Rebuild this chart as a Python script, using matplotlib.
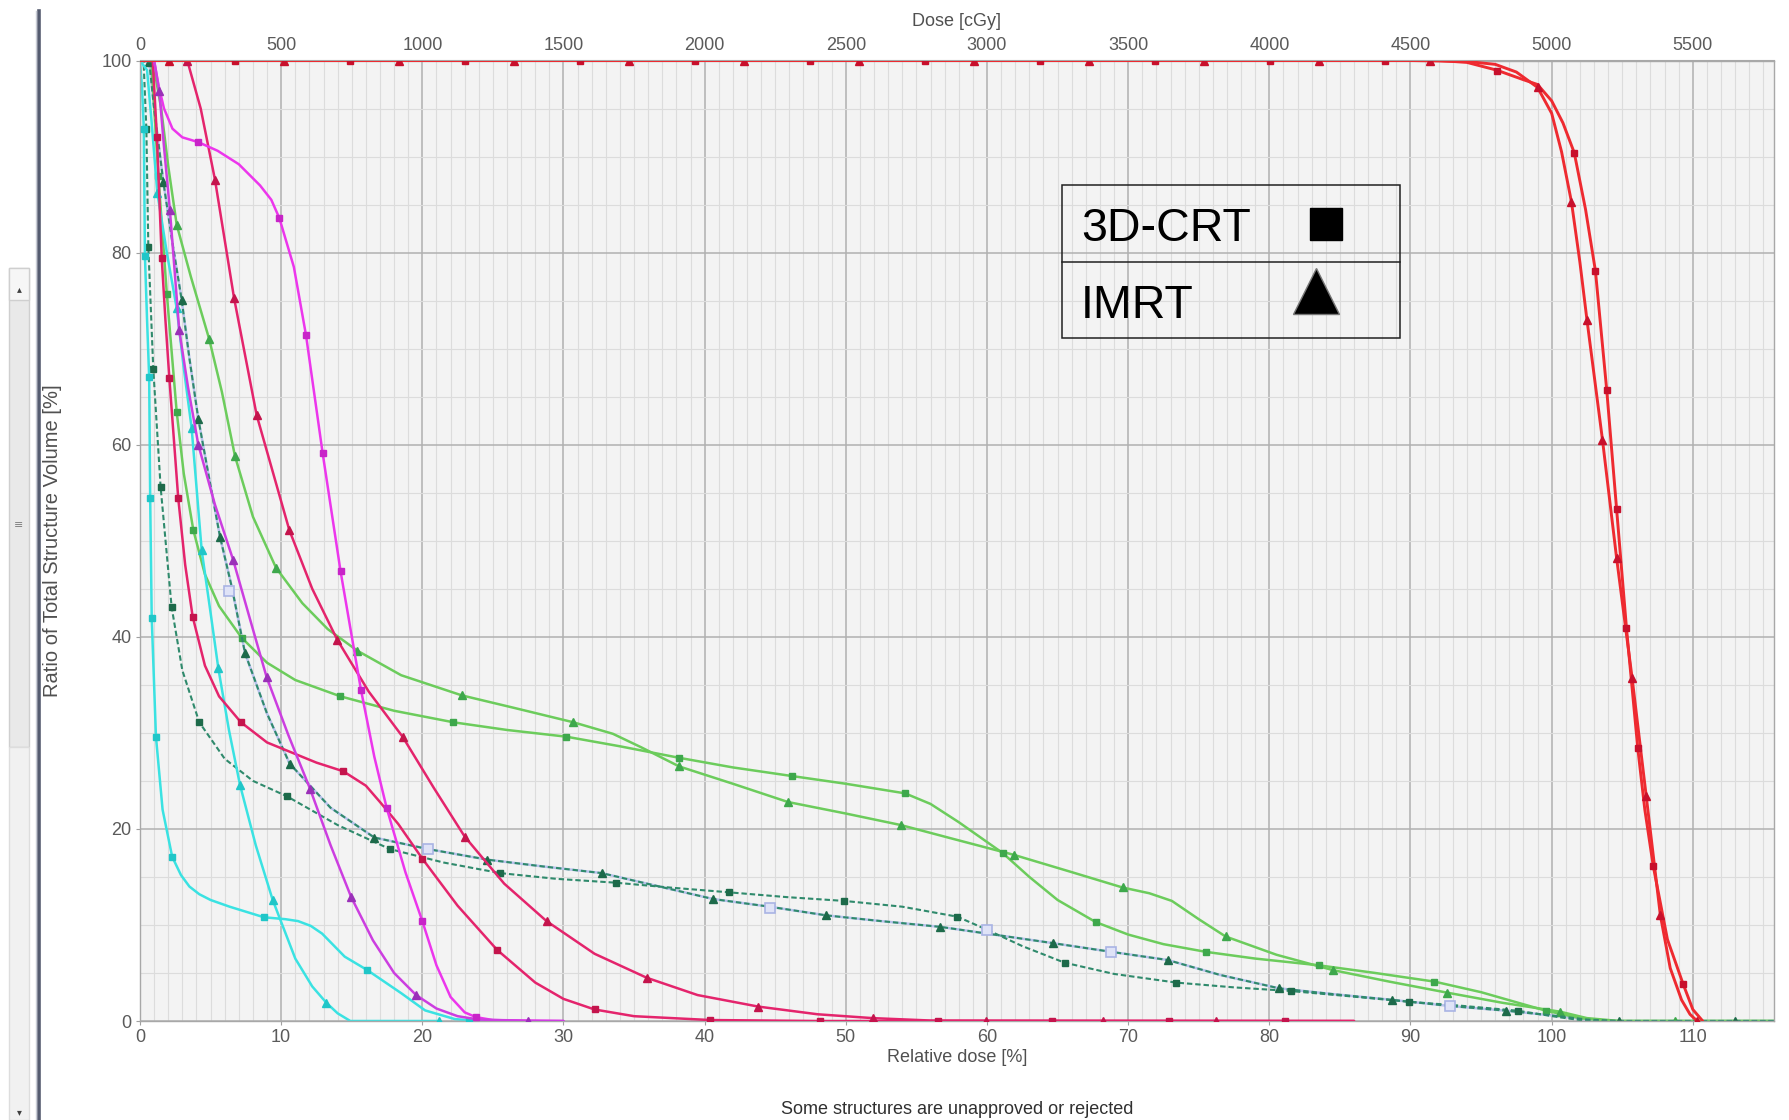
import matplotlib
matplotlib.use("Agg")
import matplotlib.pyplot as plt
from matplotlib.lines import Line2D
from matplotlib.patches import Rectangle
from matplotlib.ticker import MultipleLocator

plt.rcParams['font.family'] = ['Liberation Sans', 'DejaVu Sans']

# ---------------- data (relative dose [%], volume [%]) ----------------
# PTV 3D-CRT (squares)
ptv3d_x = [0, 10, 20, 30, 40, 50, 60, 70, 80, 88, 92, 94, 96.1, 98.0, 99.0, 100.0, 100.8, 101.6, 102.4,
           103.1, 103.9, 104.6, 105.3, 106.1, 106.6, 107.2, 108.2, 109.3, 110.0, 110.7]
ptv3d_y = [100] * 11 + [99.8, 99.0, 98.0, 97.5, 95.8, 93.5, 90.4, 84.5, 78.1, 65.7, 53.3, 40.9, 28.4,
                        22.0, 16.1, 8.5, 3.9, 1.2, 0]
ptv3d_mx = [6.7, 14.85, 23.0, 31.15, 39.3, 47.45, 55.6, 63.75, 71.9, 80.05, 88.2, 96.1, 101.6, 103.1,
            103.9, 104.6, 105.3, 106.1, 107.2, 109.3]
ptv3d_my = [100] * 11 + [98.95, 90.4, 78.1, 65.7, 53.3, 40.9, 28.4, 16.1, 3.9]

# PTV IMRT (triangles)
ptvim_x = [0, 10, 20, 30, 40, 50, 60, 70, 80, 90, 94, 96, 97.5, 99.0, 100.0, 100.7, 101.4, 102.0, 102.5,
           103.6, 104.6, 105.7, 106.7, 107.7, 108.4, 109.2, 109.8, 110.3]
ptvim_y = [100] * 10 + [99.9, 99.6, 98.8, 97.2, 94.5, 90.5, 85.3, 79.0, 73.0, 60.5, 48.2, 35.7, 23.4,
                        11.0, 5.5, 2.2, 0.7, 0]
ptvim_mx = [2.05, 10.2, 18.35, 26.5, 34.65, 42.8, 50.95, 59.1, 67.25, 75.4, 83.55, 91.4, 99.0, 101.4,
            102.5, 103.6, 104.6, 105.7, 106.7, 107.7, 110.3]
ptvim_my = [100] * 12 + [97.2, 85.3, 73.0, 60.5, 48.2, 35.7, 23.4, 11.0, 0]

# Crimson structure 3D-CRT
crim3d_x = [0, 0.9, 1.2, 1.54, 1.8, 2.08, 2.71, 3.2, 3.73, 4.6, 5.6, 7.15, 9.0, 11.0, 12.5, 14.4, 16.0,
            17.0, 18.3, 20.0, 22.5, 25.3, 28.0, 30.0, 32.2, 35.0, 40.4, 48, 86]
crim3d_y = [100, 100, 92, 79.4, 73, 66.9, 54.4, 47.5, 42.1, 37, 33.8, 31.1, 29.0, 27.8, 26.9, 26.0, 24.5,
            22.8, 20.5, 16.9, 12.0, 7.4, 4.0, 2.3, 1.2, 0.5, 0.1, 0, 0]
crim3d_mx = [1.2, 1.54, 2.08, 2.71, 3.73, 7.15, 14.4, 20.0, 25.3, 32.2, 40.4, 48.2, 56.5, 64.6, 72.9, 81.1]
crim3d_my = [92, 79.4, 66.9, 54.4, 42.1, 31.1, 26.0, 16.9, 7.4, 1.2, 0.1, 0, 0, 0, 0, 0]

# Crimson structure IMRT
crimim_x = [0, 3.35, 4.3, 5.31, 6.66, 8.26, 10.58, 12.2, 13.97, 16.2, 18.6, 20.8, 23.0, 25.8, 28.8, 32.2,
            35.9, 39.5, 43.8, 48, 51.9, 56, 86]
crimim_y = [100, 100, 95, 87.6, 75.3, 63.1, 51.1, 45.0, 39.7, 34.3, 29.6, 24.3, 19.2, 14.3, 10.4, 7.0,
            4.5, 2.7, 1.5, 0.7, 0.3, 0.05, 0]
crimim_mx = [3.35, 5.31, 6.66, 8.26, 10.58, 13.97, 18.6, 23.0, 28.8, 35.9, 43.8, 51.9, 59.9, 68.2, 76.2]
crimim_my = [100, 87.6, 75.3, 63.1, 51.1, 39.7, 29.6, 19.2, 10.4, 4.5, 1.5, 0.3, 0, 0, 0]

# Magenta structure 3D-CRT
mag3d_x = [0, 1.0, 1.3, 1.7, 2.3, 3.0, 4.13, 5.5, 7.0, 8.5, 9.3, 9.87, 10.9, 11.76, 12.94, 14.21, 15.65,
           16.6, 17.47, 18.8, 20.0, 21.0, 22.0, 23.0, 23.8, 25, 30]
mag3d_y = [100, 100, 97.5, 95, 92.9, 92.0, 91.5, 90.6, 89.2, 87.0, 85.5, 83.6, 78.5, 71.4, 59.1, 46.8,
           34.5, 27.5, 22.2, 15.5, 10.4, 5.8, 2.5, 0.9, 0.4, 0.1, 0]
mag3d_mx = [4.13, 9.87, 11.76, 12.94, 14.21, 15.65, 17.47, 20.0, 23.8]
mag3d_my = [91.5, 83.6, 71.4, 59.1, 46.8, 34.5, 22.2, 10.4, 0.4]

# Magenta/violet structure IMRT
magim_x = [0, 1.0, 1.37, 1.7, 2.12, 2.78, 3.4, 4.13, 5.3, 6.6, 7.8, 8.97, 10.5, 12.04, 13.5, 14.96, 16.5,
           18.0, 19.56, 21.0, 22.5, 24.0, 27.5, 30]
magim_y = [100, 100, 96.8, 91, 84.4, 71.9, 66, 60.0, 53.8, 48.0, 41.8, 35.8, 29.8, 24.2, 18.3, 12.9, 8.4,
           5.0, 2.7, 1.3, 0.5, 0.15, 0, 0]
magim_mx = [1.37, 2.12, 2.78, 4.13, 6.6, 8.97, 12.04, 14.96, 19.56, 27.5]
magim_my = [96.8, 84.4, 71.9, 60.0, 48.0, 35.8, 24.2, 12.9, 2.7, 0]

# Cyan structure 3D-CRT
cyan3d_x = [0, 0.15, 0.27, 0.35, 0.5, 0.65, 0.72, 0.83, 1.13, 1.6, 2.28, 2.9, 3.5, 4.2, 5.0, 6.35, 8.78,
            10.3, 11.2, 12.1, 12.9, 14.5, 16.1, 18.5, 20.2, 22.3, 24, 27]
cyan3d_y = [100, 97, 92.9, 79.6, 73, 67, 54.5, 42, 29.6, 22, 17.1, 15.2, 14.0, 13.2, 12.6, 11.9, 10.8,
            10.6, 10.4, 9.9, 9.1, 6.7, 5.3, 2.9, 1.1, 0.2, 0, 0]
cyan3d_mx = [0.27, 0.35, 0.65, 0.72, 0.83, 1.13, 2.28, 8.78, 16.1, 23.3]
cyan3d_my = [92.9, 79.6, 67, 54.5, 42, 29.6, 17.1, 10.8, 5.3, 0.05]

# Cyan structure IMRT
cyanim_x = [0, 0.5, 0.8, 1.23, 1.9, 2.6, 3.1, 3.66, 4.37, 5.0, 5.55, 6.3, 7.08, 8.2, 9.4, 11.0, 12.2,
            13.2, 14.0, 14.9, 21.2]
cyanim_y = [100, 99, 94, 86.2, 80, 74.2, 68, 61.7, 49.0, 42.5, 36.7, 30.3, 24.6, 18.3, 12.6, 6.5, 3.6,
            1.9, 0.8, 0, 0]
cyanim_mx = [1.23, 2.6, 3.66, 4.37, 5.55, 7.08, 9.4, 13.2, 21.2]
cyanim_my = [86.2, 74.2, 61.7, 49.0, 36.7, 24.6, 12.6, 1.9, 0]

# Green structure 3D-CRT
grn3d_x = [0, 0.8, 1.3, 1.9, 2.6, 3.1, 3.78, 4.6, 5.6, 7.2, 9.0, 11.0, 14.2, 18.0, 22.2, 26.0, 30.2,
           34.0, 38.2, 42.0, 46.2, 50.0, 54.2, 56.0, 58.0, 61.1, 63.0, 65.0, 67.7, 70.0, 72.5, 75.5, 79.0,
           83.5, 87.5, 91.7, 95.0, 99.6, 102.0, 104.0, 115.8]
grn3d_y = [100, 100, 88, 75.7, 63.4, 57, 51.1, 46.5, 43.2, 39.9, 37.3, 35.5, 33.8, 32.3, 31.1, 30.3,
           29.6, 28.6, 27.4, 26.4, 25.5, 24.7, 23.7, 22.6, 20.7, 17.5, 15.0, 12.6, 10.3, 9.0, 8.0, 7.2,
           6.5, 5.8, 5.0, 4.1, 3.0, 1.07, 0.3, 0, 0]
grn3d_mx = [1.3, 1.9, 2.6, 3.78, 7.2, 14.2, 22.2, 30.2, 38.2, 46.2, 54.2, 61.1, 67.7, 75.5, 83.5, 91.7, 99.6]
grn3d_my = [88, 75.7, 63.4, 51.1, 39.9, 33.8, 31.1, 29.6, 27.4, 25.5, 23.7, 17.5, 10.3, 7.2, 5.8, 4.1, 1.07]

# Green structure IMRT
grnim_x = [0, 0.9, 1.5, 2.0, 2.6, 3.6, 4.9, 5.8, 6.73, 8.0, 9.63, 11.5, 13.3, 15.4, 18.5, 22.8, 26.5,
           30.7, 33.5, 35.5, 38.2, 42.0, 45.9, 50.0, 53.9, 57.5, 61.9, 66.0, 69.6, 71.5, 73.1, 75.0, 76.9,
           80.5, 84.5, 88.5, 92.6, 96.5, 100.6, 102.5, 104.8, 115.8]
grnim_y = [100, 100, 95, 89, 82.9, 77.5, 71.0, 65.5, 58.8, 52.5, 47.2, 43.5, 40.8, 38.55, 36.0, 33.9,
           32.6, 31.1, 29.9, 28.5, 26.5, 24.7, 22.8, 21.6, 20.4, 19.0, 17.3, 15.5, 13.9, 13.3, 12.5, 10.6,
           8.8, 6.9, 5.3, 4.1, 2.95, 1.9, 0.97, 0.3, 0, 0]
grnim_mx = [2.6, 4.9, 6.73, 9.63, 15.4, 22.8, 30.7, 38.2, 45.9, 53.9, 61.9, 69.6, 76.9, 84.5, 92.6, 100.6, 108.75]
grnim_my = [82.9, 71.0, 58.8, 47.2, 38.55, 33.9, 31.1, 26.5, 22.8, 20.4, 17.3, 13.9, 8.8, 5.3, 2.95, 0.97, 0]

# Dark-green dashed structure 3D-CRT
dsh3d_x = [0, 0.25, 0.45, 0.59, 0.94, 1.46, 2.24, 3.0, 4.2, 6.0, 8.0, 10.4, 14.0, 17.7, 21.5, 25.5, 29.5,
           33.7, 37.5, 41.7, 45.8, 49.9, 54.0, 57.9, 60.0, 62.5, 65.5, 69.0, 73.4, 77.5, 81.5, 85.5, 89.9,
           93.5, 97.6, 100.5, 102.5, 115.8]
dsh3d_y = [100, 100, 92.9, 80.6, 67.9, 55.6, 43.1, 36.5, 31.1, 27.3, 25.0, 23.4, 20.4, 17.9, 16.5, 15.4,
           14.8, 14.4, 13.9, 13.4, 12.9, 12.5, 11.9, 10.86, 9.5, 7.8, 6.07, 4.9, 4.0, 3.5, 3.12, 2.6, 2.0,
           1.6, 1.07, 0.4, 0, 0]
dsh3d_mx = [0.45, 0.59, 0.94, 1.46, 2.24, 4.2, 10.4, 17.7, 25.5, 33.7, 41.7, 49.9, 57.9, 65.5, 73.4,
            81.5, 89.9, 97.6]
dsh3d_my = [92.9, 80.6, 67.9, 55.6, 43.1, 31.1, 23.4, 17.9, 15.4, 14.4, 13.4, 12.5, 10.86, 6.07, 4.0,
            3.12, 2.0, 1.07]

# Dark-green dashed structure IMRT
dshim_x = [0, 0.66, 1.0, 1.65, 2.3, 2.95, 3.5, 4.13, 4.9, 5.67, 6.5, 7.44, 9.0, 10.6, 13.5, 16.6, 20.4,
           24.6, 28.5, 32.7, 36.5, 40.6, 44.6, 48.6, 52.5, 56.7, 60.0, 64.7, 68.8, 72.8, 76.5, 80.7, 84.5,
           88.7, 92.8, 96.8, 100.5, 102.5, 104.8, 115.8]
dshim_y = [100, 99.8, 95, 87.4, 81, 75.1, 69, 62.7, 56.5, 50.4, 45.2, 38.3, 32, 26.8, 22.2, 19.1, 17.9,
           16.8, 16.1, 15.4, 14.1, 12.7, 11.9, 11.0, 10.4, 9.8, 9.1, 8.1, 7.2, 6.35, 4.8, 3.4, 2.8, 2.2,
           1.56, 1.07, 0.5, 0.15, 0, 0]
dshim_mx = [0.66, 1.65, 2.95, 4.13, 5.67, 7.44, 10.6, 16.6, 24.6, 32.7, 40.6, 48.6, 56.7, 64.7, 72.8,
            80.7, 88.7, 96.8, 104.8, 113.0]
dshim_my = [99.8, 87.4, 75.1, 62.7, 50.4, 38.3, 26.8, 19.1, 16.8, 15.4, 12.7, 11.0, 9.8, 8.1, 6.35, 3.4,
            2.2, 1.07, 0, 0]

# Lavender (partly hidden) structure markers
lav_mx = [6.3, 20.4, 44.6, 60.0, 68.8, 92.8]
lav_my = [44.8, 17.9, 11.8, 9.5, 7.2, 1.56]

x_ticks = list(range(0, 111, 10))
y_ticks = list(range(0, 101, 20))
top_ticks = list(range(0, 5501, 500))
legend_labels = ["3D-CRT", "IMRT"]

# ---------------- figure ----------------
W, H = 1789, 1120
fig = plt.figure(figsize=(W / 100, H / 100), dpi=100)
fig.patch.set_facecolor('white')

L, R, T, B = 140, 1774, 60.5, 1021
ax = fig.add_axes([L / W, 1 - B / H, (R - L) / W, (B - T) / H])
ax.set_facecolor('#f3f3f3')
ax.set_xlim(0, 115.75)
ax.set_ylim(0, 100)

ax.xaxis.set_major_locator(MultipleLocator(10))
ax.xaxis.set_minor_locator(MultipleLocator(1))
ax.yaxis.set_major_locator(MultipleLocator(20))
ax.yaxis.set_minor_locator(MultipleLocator(5))
ax.set_xticks(x_ticks)
ax.set_yticks(y_ticks)
ax.grid(which='minor', color='#dcdcdc', lw=0.8)
ax.grid(which='major', color='#b0b0b0', lw=1.1)
ax.set_axisbelow(True)
for s in ax.spines.values():
    s.set_color('#a8a8a8')
    s.set_linewidth(1.0)
ax.tick_params(which='minor', length=0)
ax.tick_params(which='major', length=3, color='#a0a0a0', labelsize=13, labelcolor='#5a5a5a', pad=3)

sec = ax.secondary_xaxis('top', functions=(lambda v: v * 50, lambda v: v / 50))
sec.set_xticks(top_ticks)
sec.tick_params(length=0, labelsize=13, labelcolor='#5a5a5a', pad=5)
sec.spines['top'].set_color('#a8a8a8')

# ---------------- curves ----------------
def draw(x, y, mx, my, lc, mc, marker, ms, lw=1.8, ls='-', z=2):
    ax.plot(x, y, color=lc, lw=lw, ls=ls, zorder=z, solid_capstyle='round', solid_joinstyle='round')
    ax.plot(mx, my, ls='none', marker=marker, ms=ms, mfc=mc, mec=mc, zorder=z + 0.1)

GREEN_L, GREEN_M = '#6ccc5c', '#3ea84c'
DASH_L, DASH_M = '#2f8a6c', '#1d6a4a'
CYAN_L, CYAN_M = '#3ae2e2', '#20c6c8'
CRIM_L, CRIM_M = '#e4246c', '#c4144c'
MAG_L, MAG_M = '#ec36ec', '#c824c8'
VIO_L, VIO_M = '#cc3ee0', '#9a30b8'
RED_L, RED_M = '#ee2a30', '#c8102c'
LAV = '#b8c2ec'

SQ, TR = 5.0, 6.0
ax.plot(dshim_x, dshim_y, color=LAV, lw=1.8, zorder=1.9)
draw(grn3d_x, grn3d_y, grn3d_mx, grn3d_my, GREEN_L, GREEN_M, 's', SQ, z=2)
draw(grnim_x, grnim_y, grnim_mx, grnim_my, GREEN_L, GREEN_M, '^', TR, z=2)
draw(dsh3d_x, dsh3d_y, dsh3d_mx, dsh3d_my, DASH_L, DASH_M, 's', SQ, lw=1.5, ls=(0, (2.6, 1.4)), z=2.2)
draw(dshim_x, dshim_y, dshim_mx, dshim_my, DASH_L, DASH_M, '^', TR, lw=1.5, ls=(0, (2.6, 1.4)), z=2.2)
ax.plot(lav_mx, lav_my, ls='none', marker='s', ms=6.5, mfc='#dfe3f7', mec='#a9b4e4', mew=1.2, zorder=2.4)
draw(cyan3d_x, cyan3d_y, cyan3d_mx, cyan3d_my, CYAN_L, CYAN_M, 's', SQ, z=2.5)
draw(cyanim_x, cyanim_y, cyanim_mx, cyanim_my, CYAN_L, CYAN_M, '^', TR, z=2.5)
draw(crim3d_x, crim3d_y, crim3d_mx, crim3d_my, CRIM_L, CRIM_M, 's', SQ, z=2.7)
draw(crimim_x, crimim_y, crimim_mx, crimim_my, CRIM_L, CRIM_M, '^', TR, z=2.7)
draw(mag3d_x, mag3d_y, mag3d_mx, mag3d_my, MAG_L, MAG_M, 's', SQ, z=2.9)
draw(magim_x, magim_y, magim_mx, magim_my, VIO_L, VIO_M, '^', TR, z=2.9)
draw(ptv3d_x, ptv3d_y, ptv3d_mx, ptv3d_my, RED_L, RED_M, 's', SQ, lw=2.1, z=3.2)
draw(ptvim_x, ptvim_y, ptvim_mx, ptvim_my, RED_L, RED_M, '^', TR, lw=2.1, z=3.2)

# ---------------- texts ----------------
def fx(px):
    return px / W

def fy(py):
    return 1 - py / H

grey = '#505050'
fig.text(fx(957), fy(21), 'Dose [cGy]', ha='center', va='center', fontsize=13, color=grey)
fig.text(fx(957), fy(1058), 'Relative dose [%]', ha='center', va='center', fontsize=13, color=grey)
fig.text(fx(957), fy(1110), 'Some structures are unapproved or rejected', ha='center', va='center',
         fontsize=13, color='#303030')
fig.text(fx(53), fy(541), 'Ratio of Total Structure Volume [%]', ha='center', va='center',
         rotation=90, fontsize=14.5, color=grey)

# ---------------- legend box ----------------
bx0, bx1, by0, by1, bmid = 1061.7, 1400, 185, 338.3, 262.3
fig.add_artist(Rectangle((fx(bx0), fy(by1)), fx(bx1) - fx(bx0), fy(by0) - fy(by1),
                         transform=fig.transFigure, fill=False, ec='#202020', lw=1.1, zorder=10))
fig.add_artist(Line2D([fx(bx0), fx(bx1)], [fy(bmid), fy(bmid)], transform=fig.transFigure,
                      color='#202020', lw=1.1, zorder=10))
fig.text(fx(1081), fy(240.7), legend_labels[0], fontsize=33.5, color='black', va='baseline', zorder=11)
fig.text(fx(1081), fy(318.3), legend_labels[1], fontsize=33.5, color='black', va='baseline', zorder=11)
fig.add_artist(Line2D([fx(1326.3)], [fy(224.3)], transform=fig.transFigure, marker='s', ms=23.5,
                      mfc='black', mec='black', ls='none', zorder=11))
fig.add_artist(Line2D([fx(1316)], [fy(291.2)], transform=fig.transFigure, marker='^', ms=33,
                      mfc='black', mec='#777777', mew=1.0, ls='none', zorder=11))

# ---------------- left UI strip ----------------
fig.add_artist(Rectangle((fx(9), fy(747)), fx(29) - fx(9), fy(268) - fy(747), transform=fig.transFigure,
                         fc='#e9e9e9', ec='#cfcfcf', lw=1.0, zorder=1))
fig.add_artist(Rectangle((fx(9), fy(1120)), fx(29) - fx(9), fy(747) - fy(1120), transform=fig.transFigure,
                         fc='#f1f1f1', ec='#dddddd', lw=1.0, zorder=1))
fig.add_artist(Rectangle((fx(9), fy(300)), fx(29) - fx(9), fy(268) - fy(300), transform=fig.transFigure,
                         fc='#f6f6f6', ec='#cfcfcf', lw=1.0, zorder=1))
fig.text(fx(19), fy(289), '\u25b4', ha='center', va='center', fontsize=7, color='#404040',
         family=['DejaVu Sans'])
fig.text(fx(19), fy(525), '\u2261', ha='center', va='center', fontsize=8, color='#808080',
         family=['DejaVu Sans'])
fig.text(fx(19), fy(1112), '\u25be', ha='center', va='center', fontsize=7, color='#404040',
         family=['DejaVu Sans'])
fig.add_artist(Line2D([fx(38.5), fx(38.5)], [fy(11), fy(1120)], transform=fig.transFigure,
                      color='#555c70', lw=2.6, zorder=2))
fig.add_artist(Line2D([fx(35.5), fx(35.5)], [fy(11), fy(1120)], transform=fig.transFigure,
                      color='#c8ccd6', lw=1.0, zorder=2))

fig.savefig('out.png', dpi=100, facecolor='white')
